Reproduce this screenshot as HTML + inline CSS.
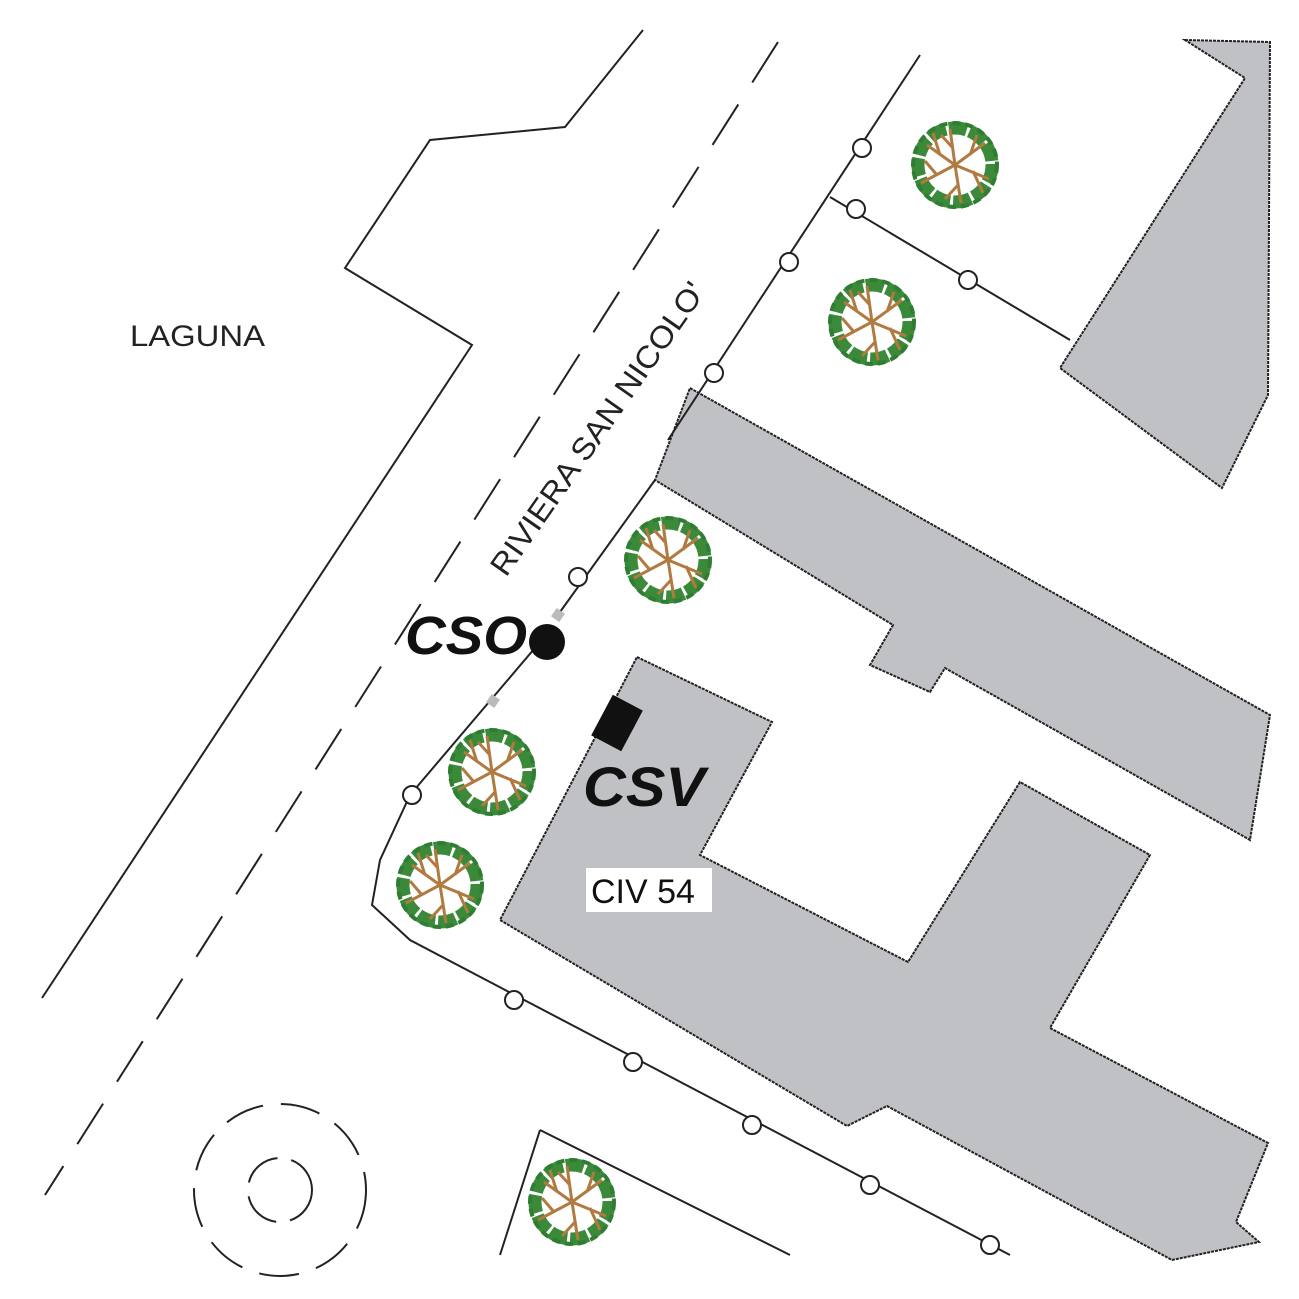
<!DOCTYPE html>
<html><head><style>
html,body{margin:0;padding:0;background:#fff;}
svg{display:block;}
</style></head><body>
<svg width="1299" height="1299" viewBox="0 0 1299 1299" xmlns="http://www.w3.org/2000/svg">
<defs>
<g id="tree">
  <circle r="37" fill="none" stroke="#3a8a3a" stroke-width="13" stroke-dasharray="18 3"/>
  <circle r="42" fill="none" stroke="#2f7d32" stroke-width="4" stroke-dasharray="8 5"/>
  <g stroke="#b07a40" stroke-width="3" fill="none">
    <path d="M0,0 L-5,-36 M-3,-18 L-14,-30 M0,0 L30,-22 M15,-10 L22,-30 M0,0 L34,14 M18,6 L28,28 M0,0 L6,38 M3,20 L-10,34 M0,0 L-34,18 M-18,10 L-30,-4 M0,0 L-28,-20 M-15,-10 L-22,-32"/>
  </g>
</g>
</defs>
<g fill="#c0c1c4" stroke="#222" stroke-width="2" stroke-dasharray="3 1">
<polygon points="1185,40 1270,42 1268,395 1222,488 1060,368 1245,78"/>
<polygon points="690,388 1270,715 1250,840 945,668 930,692 870,665 893,625 655,480"/>
<polygon points="637,657 772,722 700,855 908,962 1020,782 1150,855 1050,1028 1268,1143 1236,1222 1259,1242 1172,1260 887,1106 847,1126 500,920"/>
</g>
<g fill="none" stroke="#222" stroke-width="2">
<polyline points="643,30 565,127 430,140 345,268 472,345 42,998"/>
<line x1="778" y1="42" x2="45" y2="1195" stroke-dasharray="48 26"/>
<polyline points="920,55 668,440"/>
<polyline points="655,480 560,612"/>
<polyline points="540,642 410,795 380,860 372,905 410,940 1010,1255"/>
<line x1="830" y1="197" x2="1070" y2="340"/>
<line x1="540" y1="1130" x2="790" y2="1255"/>
<line x1="540" y1="1130" x2="500" y2="1255"/>
<circle cx="280" cy="1190" r="86" stroke-dasharray="40 18"/>
<circle cx="280" cy="1190" r="32" stroke-dasharray="40 14"/>
</g>
<g fill="#fff" stroke="#222" stroke-width="2">
<circle cx="862" cy="148" r="9"/><circle cx="856" cy="209" r="9"/><circle cx="968" cy="280" r="9"/>
<circle cx="789" cy="262" r="9"/><circle cx="714" cy="373" r="9"/><circle cx="578" cy="577" r="9"/>
<circle cx="412" cy="795" r="9"/><circle cx="514" cy="1000" r="9"/><circle cx="633" cy="1062" r="9"/>
<circle cx="752" cy="1125" r="9"/><circle cx="870" cy="1185" r="9"/><circle cx="990" cy="1245" r="9"/>
</g>
<rect x="553" y="610" width="10" height="10" fill="#bbb" transform="rotate(35 558 615)"/>
<rect x="488" y="696" width="10" height="10" fill="#bbb" transform="rotate(35 493 701)"/>
<use href="#tree" x="955" y="165"/>
<use href="#tree" x="872" y="322"/>
<use href="#tree" x="668" y="560"/>
<use href="#tree" x="492" y="772"/>
<use href="#tree" x="440" y="885"/>
<use href="#tree" x="572" y="1202"/>
<circle cx="547" cy="642" r="18" fill="#111"/>
<rect x="600" y="700" width="34" height="46" fill="#111" transform="rotate(28 617 723)"/>
<rect x="586" y="868" width="126" height="44" fill="#fff"/>
<text x="591" y="903" font-family="Liberation Sans, sans-serif" font-size="34" fill="#111">CIV 54</text>
<text x="405" y="654" font-family="Liberation Sans, sans-serif" font-size="54" font-weight="bold" font-style="italic" fill="#111" textLength="122" lengthAdjust="spacingAndGlyphs">CSO</text>
<text x="583" y="806" font-family="Liberation Sans, sans-serif" font-size="56" font-weight="bold" font-style="italic" fill="#111" textLength="122" lengthAdjust="spacingAndGlyphs">CSV</text>
<text x="130" y="346" font-family="Liberation Sans, sans-serif" font-size="30" fill="#222" textLength="135" lengthAdjust="spacingAndGlyphs">LAGUNA</text>
<text transform="translate(506,578) rotate(-55)" font-family="Liberation Sans, sans-serif" font-size="31" fill="#222" textLength="350" lengthAdjust="spacingAndGlyphs">RIVIERA SAN NICOLO'</text>
</svg>
</body></html>
